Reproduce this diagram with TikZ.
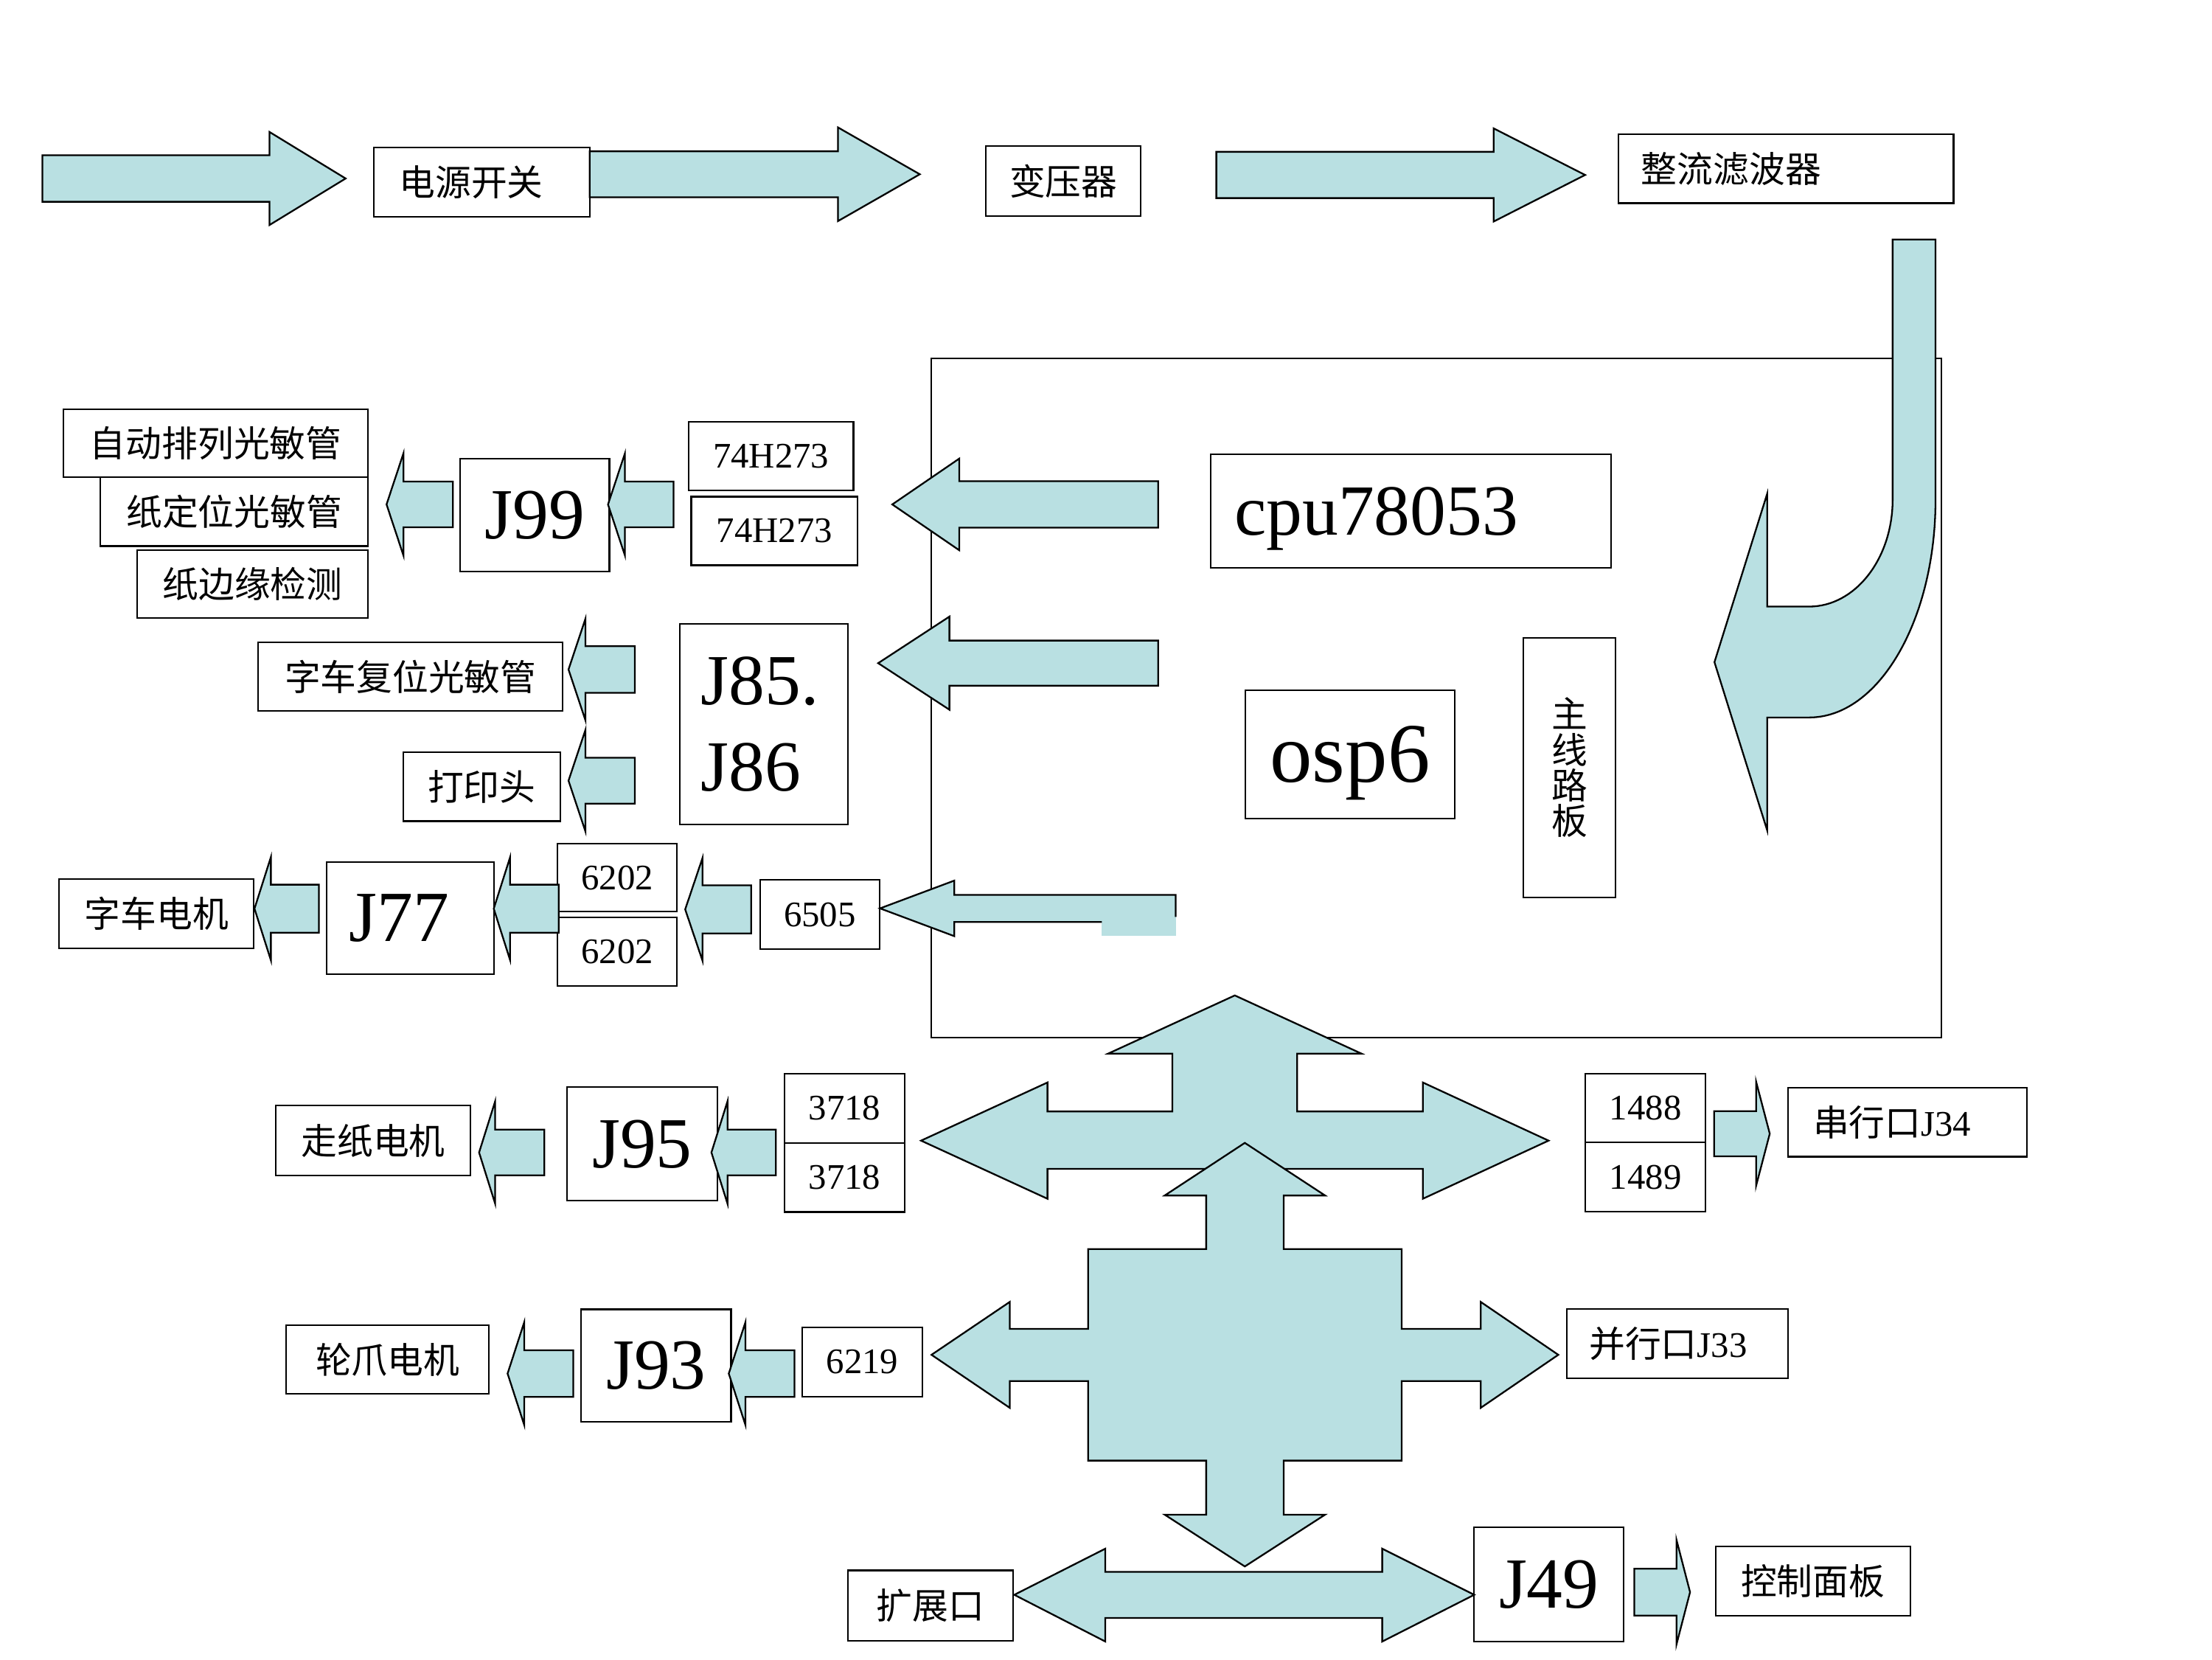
\documentclass[tikz,border=0pt]{standalone}
\usepackage{fontspec}
\setmainfont{Liberation Serif}
\newfontfamily\cjk{Noto Sans CJK SC}
\definecolor{arrowblue}{RGB}{185,224,226}
\tikzset{
	box/.style={draw, line width=1.1pt, fill=white, inner sep=0pt, font=\fontsize{25.5}{30}\selectfont},
	big/.style={font=\fontsize{51}{61}\selectfont},
	blk/.style={draw, line width=1.2pt, fill=arrowblue}
}
% tip x, tip y, head base x, tail x, half body, half head
\newcommand{\harrow}[6]{\draw[blk] (#1,#2) -- (#3,#2-#6) -- (#3,#2-#5) -- (#4,#2-#5) -- (#4,#2+#5) -- (#3,#2+#5) -- (#3,#2+#6) -- cycle;}
\begin{document}
\begin{tikzpicture}[x=1pt,y=-1pt]
	\useasboundingbox (0,0) rectangle (1568,1176);
	\node[draw, line width=1pt, inner sep=0pt, minimum width=716pt, minimum height=481.5pt](board) at (1018,494.75) {};
	\node[box, minimum width=153pt, minimum height=49.2pt, text width=117pt, inner xsep=18pt, align=left](pwr) at (341.5,129.1) {\cjk 电源开关};
	\node[box, minimum width=109.6pt, minimum height=49.4pt](trans) at (753.8,128.3) {\cjk 变压器};
	\node[box, minimum width=237.4pt, minimum height=49pt, text width=205.4pt, inner xsep=16pt, align=left](rect) at (1266.1,119.5) {\cjk 整流滤波器};
	\node[box, big, text depth=0pt, minimum width=284pt, minimum height=80.5pt, text width=250pt, inner xsep=17pt, align=left](cpu) at (1000,362.25) {cpu78053};
	\node[box, font=\fontsize{60}{66}\selectfont, text depth=0pt, minimum width=148pt, minimum height=91pt](osp) at (957,534.5) {osp6};
	\node[box, font=\fontsize{25.5}{25.3}\cjk, align=center, minimum width=65pt, minimum height=184pt](bus) at (1112.5,544) {主\\线\\路\\板};
	\node[box, minimum width=216pt, minimum height=48pt](sa) at (153,314) {\cjk 自动排列光敏管};
	\node[box, minimum width=190pt, minimum height=49pt](sb) at (166,362.5) {\cjk 纸定位光敏管};
	\node[box, minimum width=164pt, minimum height=48pt](sc) at (179,414) {\cjk 纸边缘检测};
	\node[box, big, minimum width=106pt, minimum height=80pt](j99) at (379,365) {J99};
	\node[box, minimum width=117pt, minimum height=48.6pt](ha) at (546.5,323.3) {74H273};
	\node[box, minimum width=118pt, minimum height=48.6pt](hb) at (549,376.3) {74H273};
	\node[box, minimum width=216pt, minimum height=49pt](reset) at (291,479.5) {\cjk 字车复位光敏管};
	\node[box, minimum width=111pt, minimum height=49pt](phead) at (341.5,557.5) {\cjk 打印头};
	\node[box, big, minimum width=119pt, minimum height=142.5pt, text width=89pt, inner xsep=15pt, align=left](j85) at (541.5,513.25) {J85.\\J86};
	\node[box, minimum width=138pt, minimum height=49pt](cmotor) at (111,647.5) {\cjk 字车电机};
	\node[box, big, minimum width=118.4pt, minimum height=79.5pt, text width=86.4pt, inner xsep=16pt, align=left](j77) at (290.8,650.75) {J77};
	\node[box, minimum width=85pt, minimum height=48pt](da) at (437.5,622) {6202};
	\node[box, minimum width=85pt, minimum height=49pt](db) at (437.5,674.5) {6202};
	\node[box, minimum width=84.9pt, minimum height=49.2pt](c6505) at (581.15,648.2) {6505};
	\node[box, minimum width=138pt, minimum height=49.4pt](pmotor) at (264.5,808.3) {\cjk 走纸电机};
	\node[box, big, minimum width=106.4pt, minimum height=80.5pt](j95) at (455.2,810.75) {J95};
	\node[box, minimum width=85.4pt, minimum height=49pt](pa) at (598.7,785.5) {3718};
	\node[box, minimum width=85.4pt, minimum height=49pt](pb) at (598.7,834.5) {3718};
	\node[box, minimum width=143.6pt, minimum height=49pt](wmotor) at (274.8,963.5) {\cjk 轮爪电机};
	\node[box, big, minimum width=106.2pt, minimum height=79.6pt](j93) at (465.1,967.8) {J93};
	\node[box, minimum width=85.4pt, minimum height=49.1pt](c6219) at (611.3,965.15) {6219};
	\node[box, minimum width=85.2pt, minimum height=48.5pt](ra) at (1166.4,785.45) {1488};
	\node[box, minimum width=85.2pt, minimum height=49.1pt](rb) at (1166.4,834.25) {1489};
	\node[box, minimum width=169.7pt, minimum height=49.1pt, text width=133.7pt, inner xsep=18pt, align=left](serial) at (1352.15,795.25) {{\cjk 串行口}J34};
	\node[box, minimum width=156.8pt, minimum height=49.2pt, text width=124.8pt, inner xsep=16pt, align=left](par) at (1188.9,952.4) {{\cjk 并行口}J33};
	\node[box, big, minimum width=106pt, minimum height=80.7pt](j49) at (1098,1123) {J49};
	\node[box, minimum width=138.2pt, minimum height=49pt](panel) at (1285.1,1120.5) {\cjk 控制面板};
	\node[box, minimum width=117pt, minimum height=50pt](ext) at (659.5,1138) {\cjk 扩展口};
	\harrow{245}{126.5}{191}{30}{16.5}{33}
	\harrow{652}{123.5}{594}{418}{16.3}{33.2}
	\harrow{1123.6}{124}{1058.8}{862.2}{16.4}{33}
	\draw[blk] (1341.6,169.7) -- (1341.6,354) arc[start angle=0, end angle=-90, x radius=59.2pt, y radius=75.9pt] -- (1252.7,429.9) -- (1252.7,349.8) -- (1215.3,469.3) -- (1252.7,588.6) -- (1252.7,508.5) -- (1282.4,508.5) arc[start angle=-90, end angle=0, x radius=89.6pt, y radius=154.5pt] -- (1372,169.7) -- cycle;
	\harrow{632.5}{357.5}{680}{821}{16.5}{32.5}
	\harrow{622.5}{470}{673}{821}{16}{33}
	\fill[arrowblue] (623.8,643.8) -- (676.5,624.1) -- (676.5,634.2) -- (833.4,634.2) -- (833.4,653.4) -- (676.5,653.4) -- (676.5,663.5) -- cycle;
	\fill[arrowblue] (781.1,649.9) rectangle (833.4,663.5);
	\draw[line width=1.2pt] (833.4,649.9) -- (833.4,634.2) -- (676.5,634.2) -- (676.5,624.1) -- (623.8,643.8) -- (676.5,663.5) -- (676.5,653.4) -- (781.1,653.4);
	\harrow{274}{357.5}{286}{321}{16.25}{36.25}
	\harrow{431}{357.5}{443}{477.5}{16.25}{36.25}
	\harrow{403}{474.5}{415}{450}{16.5}{36}
	\harrow{403}{553.3}{415}{450}{16.3}{36}
	\harrow{180.4}{644}{192}{226}{17}{36.5}
	\harrow{350}{644}{361.6}{396}{17}{36.5}
	\harrow{485.7}{644.5}{498}{532.5}{17}{36.5}
	\harrow{339.6}{816.8}{351}{385.8}{16.2}{36.3}
	\harrow{504.3}{816.8}{515.7}{550}{16.2}{36.3}
	\harrow{359.8}{973.5}{371.6}{406.4}{16.5}{36.4}
	\harrow{516.6}{973.5}{528.4}{563.2}{16.5}{36.4}
	\harrow{1254.5}{803.5}{1244.8}{1215}{16}{37}
	\harrow{1198}{1128.4}{1188.4}{1158.5}{16.6}{37}
	\draw[blk] (875.3,705.5) -- (965,746.7) -- (919.5,746.7) -- (919.5,787.7) -- (1008.6,787.7) -- (1008.6,767.2) -- (1097.7,808.4) -- (1008.6,849.6) -- (1008.6,828.4) -- (742.5,828.4) -- (742.5,849.6) -- (652.9,808.4) -- (742.5,767.2) -- (742.5,787.7) -- (831,787.7) -- (831,746.7) -- (785.6,746.7) -- cycle;
	\draw[blk] (882.4,810) -- (939.3,847.3) -- (910,847.3) -- (910,885.3) -- (993.6,885.3) -- (993.6,941.8) -- (1049.6,941.8) -- (1049.6,922.7) -- (1104.6,960.2) -- (1049.6,997.8) -- (1049.6,978.8) -- (993.6,978.8) -- (993.6,1035.2) -- (910,1035.2) -- (910,1073.5) -- (939.3,1073.5) -- (882.4,1110.2) -- (825.6,1073.5) -- (855,1073.5) -- (855,1035.2) -- (771.3,1035.2) -- (771.3,978.8) -- (715.8,978.8) -- (715.8,997.8) -- (660.3,960.2) -- (715.8,922.7) -- (715.8,941.8) -- (771.3,941.8) -- (771.3,885.3) -- (855,885.3) -- (855,847.3) -- (825.6,847.3) -- cycle;
	\draw[blk] (719,1130.3) -- (783.5,1097.6) -- (783.5,1114) -- (979.8,1114) -- (979.8,1097.6) -- (1045,1130.3) -- (979.8,1163.4) -- (979.8,1146.7) -- (783.5,1146.7) -- (783.5,1163.4) -- cycle;
\end{tikzpicture}
\end{document}
